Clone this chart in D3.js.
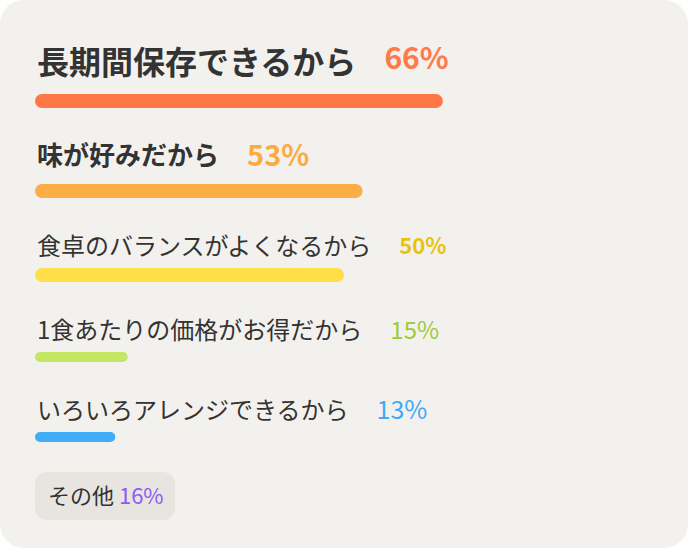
<!DOCTYPE html>
<html>
<head>
<meta charset="utf-8">
<script src="https://cdn.jsdelivr.net/npm/d3@7"></script>
<style>
  body { margin: 0; background: #ffffff; }
  svg { display: block; }
  text { font-family: "Noto Sans CJK JP", "Noto Sans", sans-serif; }
</style>
</head>
<body>
<script>
// reasons and their share
var labels = ["長期間保存できるから", "味が好みだから", "食卓のバランスがよくなるから", "1食あたりの価格がお得だから", "いろいろアレンジできるから"];
var values = [66, 53, 50, 15, 13];
var barColors = ["#ff7744", "#fcad45", "#fedf47", "#c3e663", "#42adf7"];
var pctColors = ["#ff7a48", "#fbab40", "#e8c30a", "#9dcb3c", "#40a9f6"];
var otherLabel = "その他";
var otherValue = 16;

var width = 690, height = 550;

// per-row look: the top answers are drawn bigger
var rows = [
  { base: 74, size: 32, weight: 700, pctBase: 69, pctSize: 30, pctWeight: 700, barY: 94, barH: 14 },
  { base: 165, size: 26, weight: 700, pctBase: 166, pctSize: 29, pctWeight: 700, barY: 184, barH: 14 },
  { base: 255, size: 24, weight: 400, pctBase: 254, pctSize: 22, pctWeight: 700, barY: 268, barH: 14 },
  { base: 339, size: 24, weight: 400, pctBase: 339, pctSize: 24, pctWeight: 400, barY: 352, barH: 10 },
  { base: 419, size: 24, weight: 400, pctBase: 419, pctSize: 25, pctWeight: 400, barY: 432, barH: 10 }
];

var svg = d3.select("body").append("svg")
    .attr("width", width)
    .attr("height", height);

svg.append("rect")
    .attr("x", 0).attr("y", 0)
    .attr("width", 688).attr("height", 548)
    .attr("rx", 24)
    .attr("fill", "#f3f1ee");

var x = d3.scaleLinear()
    .domain([0, 100])
    .range([35, 653]);

var row = svg.selectAll("g.row")
    .data(values)
    .enter().append("g")
    .attr("class", "row");

row.append("rect")
    .attr("x", x(0))
    .attr("y", function (d, i) { return rows[i].barY; })
    .attr("height", function (d, i) { return rows[i].barH; })
    .attr("width", function (d) { return x(d) - x(0); })
    .attr("rx", function (d, i) { return rows[i].barH / 2; })
    .attr("fill", function (d, i) { return barColors[i]; });

var label = row.append("text")
    .attr("x", 37)
    .attr("y", function (d, i) { return rows[i].base; })
    .attr("font-size", function (d, i) { return rows[i].size; })
    .attr("font-weight", function (d, i) { return rows[i].weight; })
    .attr("fill", "#333333")
    .text(function (d, i) { return labels[i]; });

// percentage sits a fixed gap after its label
row.append("text")
    .attr("x", function (d, i) {
      return 37 + label.nodes()[i].getComputedTextLength() + 28;
    })
    .attr("y", function (d, i) { return rows[i].pctBase; })
    .attr("font-size", function (d, i) { return rows[i].pctSize; })
    .attr("font-weight", function (d, i) { return rows[i].pctWeight; })
    .attr("fill", function (d, i) { return pctColors[i]; })
    .text(function (d) { return d + "%"; });

// "other" pill
svg.append("rect")
    .attr("x", 35).attr("y", 472)
    .attr("width", 140).attr("height", 48)
    .attr("rx", 12)
    .attr("fill", "#e8e5e1");

var other = svg.append("text")
    .attr("x", 48)
    .attr("y", 504)
    .attr("font-size", 22)
    .attr("fill", "#333333");
other.append("tspan").text(otherLabel + " ");
other.append("tspan").attr("fill", "#8c5cf2").text(otherValue + "%");
</script>
</body>
</html>
